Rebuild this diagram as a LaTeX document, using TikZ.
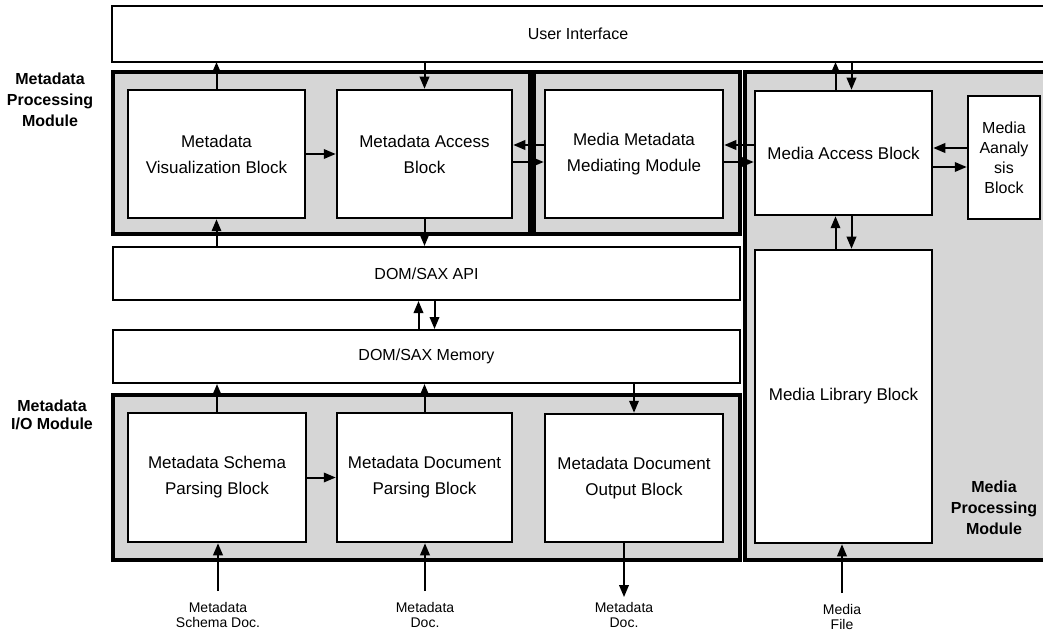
\documentclass[tikz,border=0pt]{standalone}
\usepackage{fontspec}
\setmainfont{Liberation Sans}
\usetikzlibrary{arrows.meta}
\colorlet{modgray}{black!16}

\begin{document}
\begin{tikzpicture}[x=1pt,y=-1pt,
    blk/.style={draw,line width=2.5pt,fill=white,align=center,inner sep=0pt,font=\fontsize{17}{26}\selectfont},
    bar/.style={draw,line width=2pt,fill=white,inner sep=0pt,font=\fontsize{16}{20}\selectfont},
    grp/.style={draw,line width=3.5pt,fill=modgray},
    arr/.style={line width=2pt,-{Triangle[length=12pt,width=9.5pt]}},
    doclbl/.style={align=center,font=\fontsize{14}{14.5}\selectfont},
    modlbl/.style={align=center,font=\bfseries\fontsize{16}{21}\selectfont}]
            \useasboundingbox[fill=white] (0,0) rectangle (1043,636);
            % module groups
            \draw[grp] (113,72) rectangle (530,234);
            \draw[grp] (534,72) rectangle (740,234);
            \draw[grp] (113,395) rectangle (740,560);
            \fill[modgray] (745,72) rectangle (1043,560);
            \draw[line width=3.5pt] (1043,72) -| (745,560) -- (1043,560);
            % blocks
            \node[bar,draw=none,minimum width=930,minimum height=54] (ui) at (578,34) {User Interface};
            \draw[line width=2pt] (ui.north east) -| (ui.south west) -- (ui.south east);
            \node[blk,minimum width=177,minimum height=128] (viz) at (216.5,154) {Metadata\\Visualization Block};
            \node[blk,minimum width=175,minimum height=128] (acc) at (424.5,154) {Metadata Access\\Block};
            \node[blk,minimum width=178,minimum height=128] (med) at (634,154) {Media Metadata\\Mediating Module};
            \node[blk,minimum width=177,minimum height=124] (mab) at (843.5,153) {Media Access Block};
            \node[blk,minimum width=72,minimum height=123,font=\fontsize{16}{20}\selectfont] (ana) at (1004,157.5) {Media\\Aanaly\\sis\\Block};
            \node[blk,minimum width=177,minimum height=293] (lib) at (843.5,396.5) {Media Library Block};
            \node[bar,minimum width=627,minimum height=53] (api) at (426.5,273.5) {DOM/SAX API};
            \node[bar,minimum width=627,minimum height=53] (mem) at (426.5,356.5) {DOM/SAX Memory};
            \node[blk,minimum width=178,minimum height=129] (sch) at (217,477.5) {Metadata Schema\\Parsing Block};
            \node[blk,minimum width=175,minimum height=129] (dpb) at (424.5,477.5) {Metadata Document\\Parsing Block};
            \node[blk,minimum width=178,minimum height=128] (out) at (634,478) {Metadata Document\\Output Block};
            % module labels
            \node[modlbl] (mpmlbl) at (50,100) {Metadata\\Processing\\Module};
            \node[modlbl,font=\bfseries\fontsize{16}{18}\selectfont] (iolbl) at (52,415) {Metadata\\I/O Module};
            \node[modlbl] (mplbl) at (994,508) {Media\\Processing\\Module};
            % documents
            \node[doclbl] (schdoc) at (218,615) {Metadata\\Schema Doc.};
            \node[doclbl] (indoc) at (425,615) {Metadata\\Doc.};
            \node[doclbl] (outdoc) at (624,615) {Metadata\\Doc.};
            \node[doclbl] (mfile) at (842,617) {Media\\File};
            % connectors
            \draw[arr] (viz.north) -- (viz.north |- ui.south);
            \draw[arr] (acc.north |- ui.south) -- (acc.north);
            \draw[arr] (viz.south |- api.north) -- (viz.south);
            \draw[arr] (acc.south) -- (acc.south |- api.north);
            \draw[arr] (viz.east) -- (acc.west);
            \draw[arr] (sch.east) -- (dpb.west);
            \draw[arr] ([yshift=9pt]med.west) -- ([yshift=9pt]med.west -| acc.east);
            \draw[arr] ([yshift=-8pt]acc.east) -- ([yshift=-8pt]acc.east -| med.west);
            \draw[arr] ([yshift=9pt]med.east -| mab.west) -- ([yshift=9pt]med.east);
            \draw[arr] ([yshift=-8pt]med.east) -- ([yshift=-8pt]med.east -| mab.west);
            \draw[arr] ([yshift=9.5pt]ana.west) -- ([yshift=9.5pt]ana.west -| mab.east);
            \draw[arr] ([yshift=-9.5pt]ana.west -| mab.east) -- ([yshift=-9.5pt]ana.west);
            \draw[arr] ([xshift=-8pt]mab.north) -- ([xshift=-8pt]mab.north |- ui.south);
            \draw[arr] ([xshift=8pt]mab.north |- ui.south) -- ([xshift=8pt]mab.north);
            \foreach \a/\b in {mem/api, lib/mab}{
                \draw[arr] ([xshift=-8pt]\a.north) -- ([xshift=-8pt]\b.south);
                \draw[arr] ([xshift=8pt]\b.south) -- ([xshift=8pt]\a.north);
            }
            \foreach \a in {sch,dpb}{
                \draw[arr] (\a.north) -- (\a.north |- mem.south);
            }
            \draw[arr] (out.north |- mem.south) -- (out.north);
            \foreach \d/\b in {schdoc/sch,indoc/dpb,mfile/lib}{
                \draw[arr,shorten <=8pt] (\d.north) -- (\d.north |- \b.south);
            }
            \draw[arr,shorten >=2pt] (out.south -| outdoc.north) -- (outdoc.north);
        \end{tikzpicture}
\end{document}
